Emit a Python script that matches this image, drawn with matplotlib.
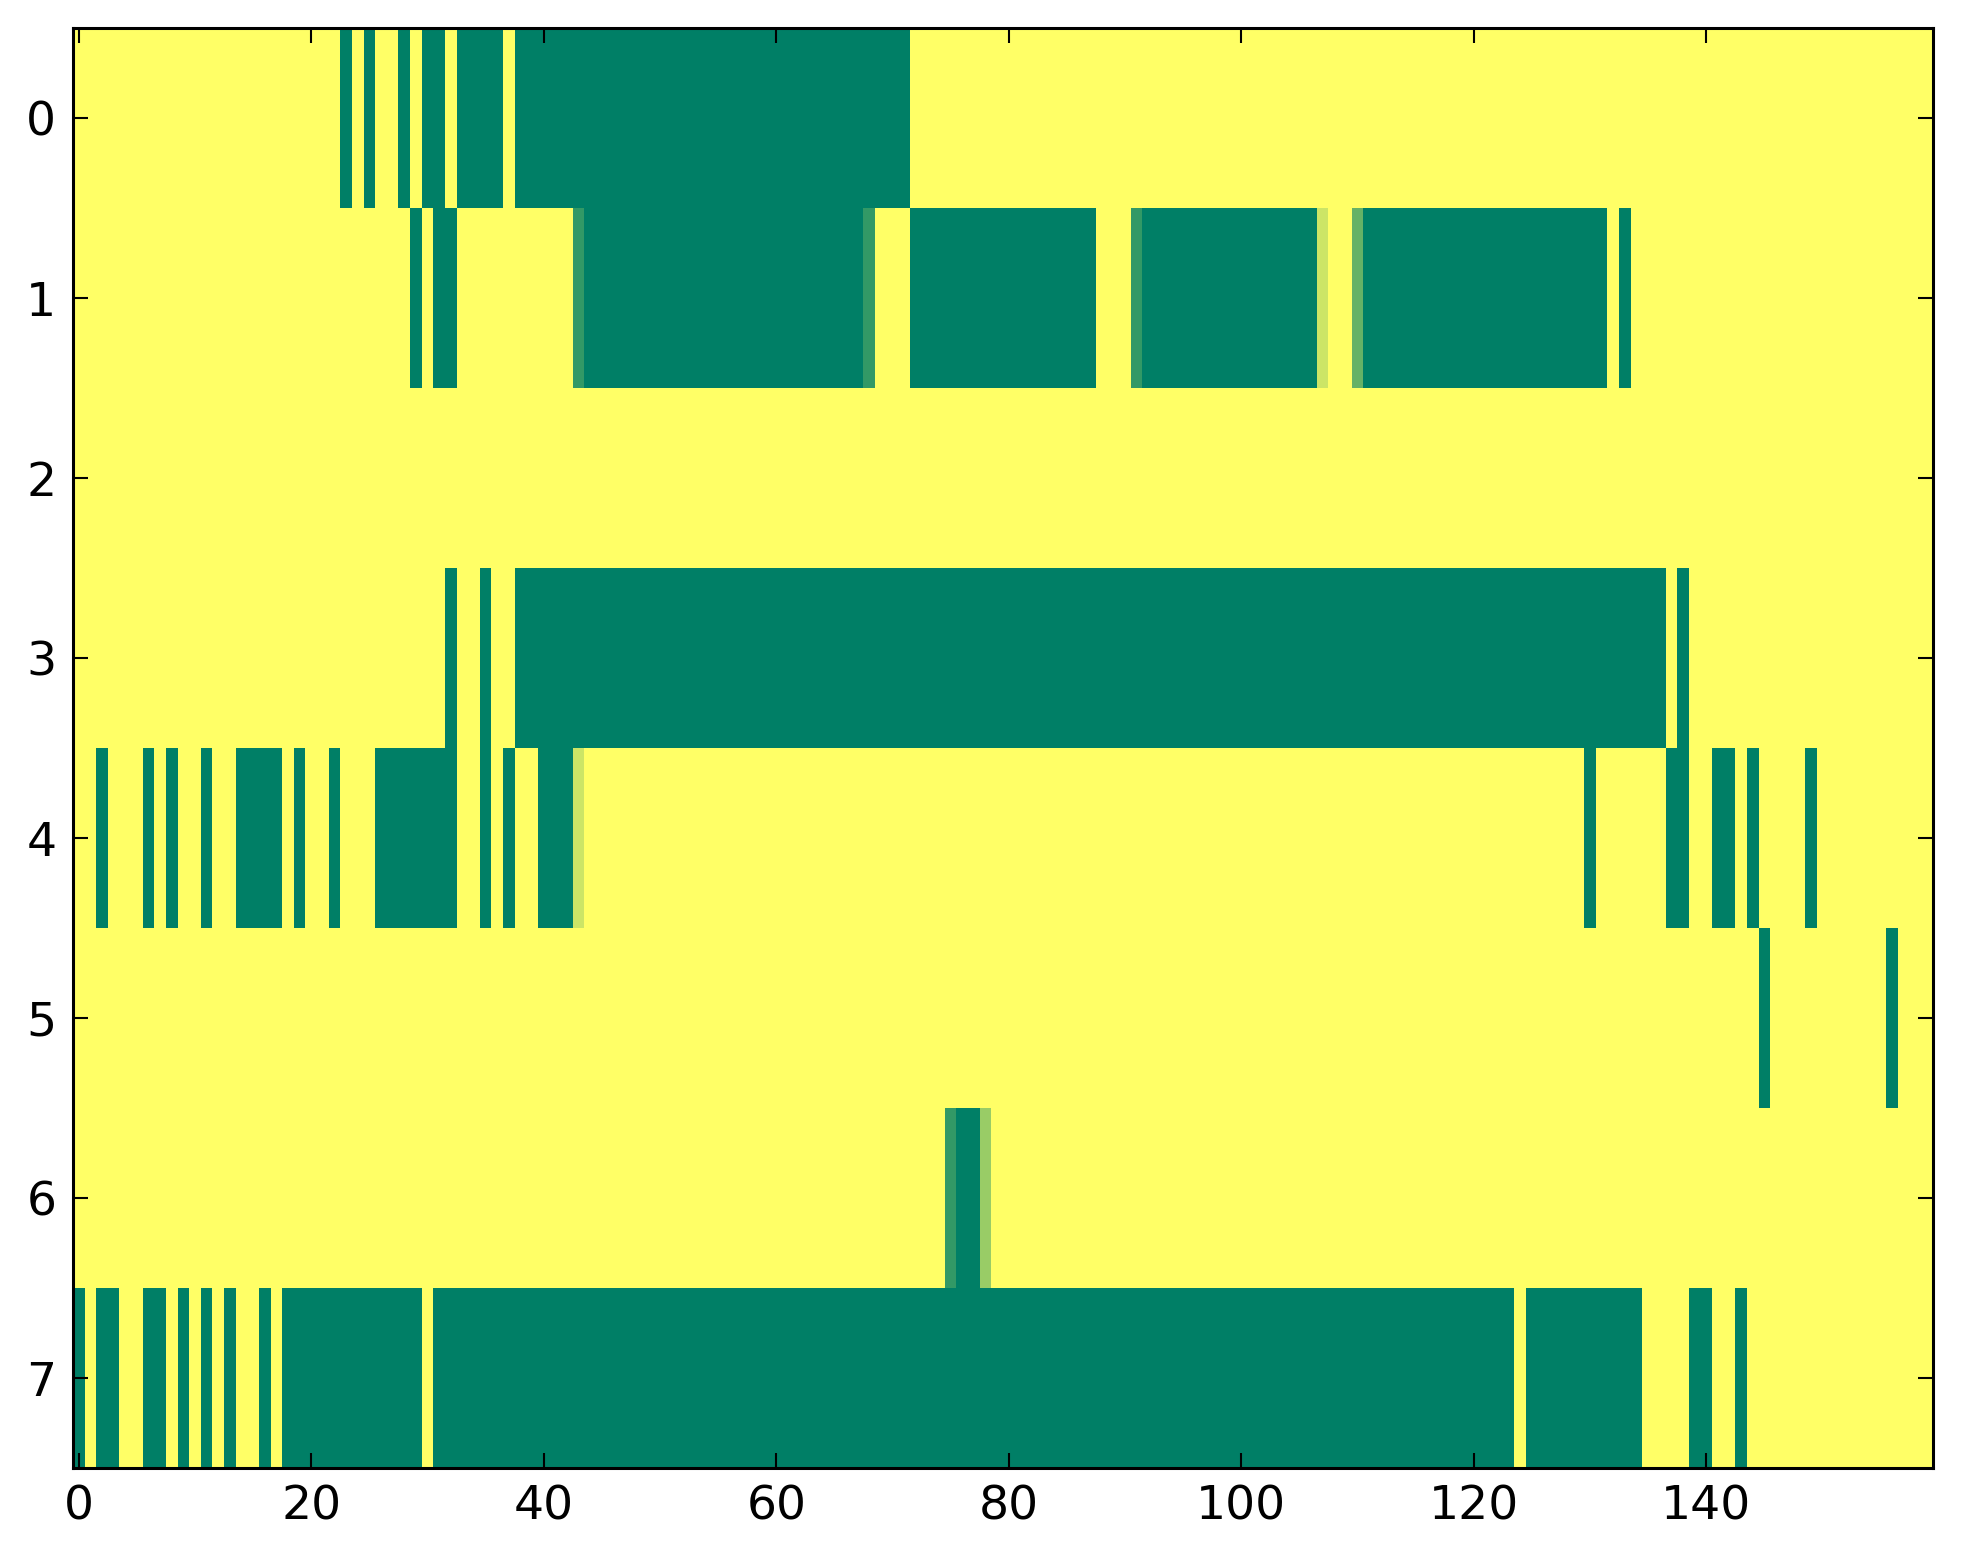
import numpy as np
import matplotlib
matplotlib.use("Agg")
import matplotlib.pyplot as plt

n_rows = 8
n_cols = 160

# Green runs per row: (first_col, last_col, value); value 1 = full green, fractions = lighter shades
row0 = [(23, 23, 1), (25, 25, 1), (28, 28, 1), (30, 31, 1), (33, 36, 1), (38, 71, 1)]
row1 = [(29, 29, 1), (31, 32, 1), (43, 43, 0.8), (44, 67, 1), (68, 68, 0.8), (72, 87, 1),
        (91, 91, 0.8), (92, 106, 1), (107, 107, 0.2), (110, 110, 0.6), (111, 131, 1), (133, 133, 1)]
row2 = []
row3 = [(32, 32, 1), (35, 35, 1), (38, 136, 1), (138, 138, 1)]
row4 = [(2, 2, 1), (6, 6, 1), (8, 8, 1), (11, 11, 1), (14, 17, 1), (19, 19, 1), (22, 22, 1),
        (26, 32, 1), (35, 35, 1), (37, 37, 1), (40, 42, 1), (43, 43, 0.2), (130, 130, 1),
        (137, 138, 1), (141, 142, 1), (144, 144, 1), (149, 149, 1)]
row5 = [(145, 145, 1), (156, 156, 1)]
row6 = [(75, 75, 0.8), (76, 77, 1), (78, 78, 0.4)]
row7 = [(0, 0, 1), (2, 3, 1), (6, 7, 1), (9, 9, 1), (11, 11, 1), (13, 13, 1), (16, 16, 1),
        (18, 29, 1), (31, 123, 1), (125, 134, 1), (139, 140, 1), (143, 143, 1)]
rows = [row0, row1, row2, row3, row4, row5, row6, row7]

xticks = [0, 20, 40, 60, 80, 100, 120, 140]
yticks = [0, 1, 2, 3, 4, 5, 6, 7]

data = np.zeros((n_rows, n_cols))
for r, runs in enumerate(rows):
    for a, b, v in runs:
        data[r, a:b + 1] = v

W, H = 1963, 1564
fig = plt.figure(figsize=(W / 100, H / 100), dpi=100)
ax = fig.add_axes([73 / W, 1 - 1468 / H, (1933 - 73) / W, (1468 - 28) / H])
ax.imshow(data, cmap="summer_r", vmin=0, vmax=1, aspect="auto", interpolation="nearest")
ax.set_xlim(-0.5, n_cols - 0.5)
ax.set_ylim(n_rows - 0.5, -0.5)
ax.set_xticks(xticks)
ax.set_yticks(yticks)
ax.tick_params(direction="in", length=11, width=1.5, top=True, right=True,
               labelsize=34, pad=12, colors="black")
for s in ax.spines.values():
    s.set_linewidth(2.2)
fig.savefig("out.png", dpi=100)
